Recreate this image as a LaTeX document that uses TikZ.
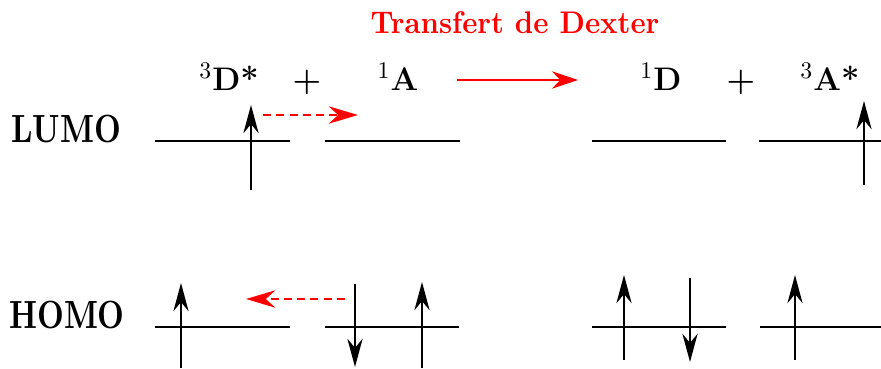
\documentclass[tikz,border=0pt]{standalone}
\usepackage{fontspec}
\usepackage{tikz}
\usetikzlibrary{arrows.meta}
\newfontfamily\niveaufont[FakeStretch=0.79]{lmroman10-bold.otf}
\newfontfamily\titrefont[FakeStretch=0.92]{lmroman10-bold.otf}

\begin{document}
\begin{tikzpicture}[
  x=0.46pt,y=-0.46pt,
  font=\Large\bfseries,
  niveau/.style={line width=0.9pt},
  spin/.style={-{Stealth[length=13pt,width=7pt]},line width=0.9pt},
  saut/.style={red,line width=0.9pt,dash pattern=on 3.7pt off 2.4pt,-{Stealth[length=13.5pt,width=8pt]}},
  lbl/.style={anchor=base,inner sep=0pt},
  espece/.style={lbl,font=\fontsize{15}{18}\bfseries},
  orbitale/.style={lbl,font=\fontsize{18.1}{21}\niveaufont}
]
  \useasboundingbox (0,0) rectangle (881,368);

  % titre et especes
  \node[lbl,red,font=\Large\titrefont] (titre) at (515,33) {Transfert de Dexter};
  \node[espece] (dstar) at (229,90) {$^{3}$D*};
  \node[espece] (plusg) at (307,90) {+};
  \node[espece] (aun) at (398,90) {$^{1}$A};
  \node[espece] (dun) at (661,90) {$^{1}$D};
  \node[espece] (plusd) at (741,90) {+};
  \node[espece] (astar) at (830,90) {$^{3}$A*};
  \node[orbitale] (lumo) at (66,142) {LUMO};
  \node[orbitale] (homo) at (67,328) {HOMO};

  % niveaux
  \draw[niveau] (155,141) -- (290,141);
  \draw[niveau] (325,141) -- (460,141);
  \draw[niveau] (592,141) -- (726,141);
  \draw[niveau] (759,141) -- (881,141);
  \draw[niveau] (155,327) -- (290,327);
  \draw[niveau] (325,327) -- (459,327);
  \draw[niveau] (592,327) -- (726,327);
  \draw[niveau] (760,327) -- (881,327);

  % spins
  \coordinate (sL1a) at (251,190); \coordinate (sL1b) at (251,105);
  \coordinate (sL4a) at (864,185); \coordinate (sL4b) at (864,101);
  \coordinate (sH1a) at (181,368); \coordinate (sH1b) at (181,283);
  \coordinate (sH2a) at (355,284); \coordinate (sH2b) at (355,367);
  \coordinate (sH3a) at (422,368); \coordinate (sH3b) at (422,282);
  \coordinate (sH4a) at (624,360); \coordinate (sH4b) at (624,275);
  \coordinate (sH5a) at (690,278); \coordinate (sH5b) at (690,362);
  \coordinate (sH6a) at (795,360); \coordinate (sH6b) at (795,275);
  \draw[spin] (sL1a) -- (sL1b);
  \draw[spin] (sL4a) -- (sL4b);
  \draw[spin] (sH1a) -- (sH1b);
  \draw[spin] (sH2a) -- (sH2b);
  \draw[spin] (sH3a) -- (sH3b);
  \draw[spin] (sH4a) -- (sH4b);
  \draw[spin] (sH5a) -- (sH5b);
  \draw[spin] (sH6a) -- (sH6b);

  % echanges
  \coordinate (eLa) at (263,115); \coordinate (eLb) at (358,115);
  \coordinate (eHa) at (345,299); \coordinate (eHb) at (246,299);
  \draw[saut] (eLa) -- (eLb);
  \draw[saut] (eHa) -- (eHb);

  \coordinate (fa) at (457,80); \coordinate (fb) at (578,80);
  \draw[red,line width=0.9pt,-{Stealth[length=12pt,width=8pt]}] (fa) -- (fb);
\end{tikzpicture}
\end{document}
